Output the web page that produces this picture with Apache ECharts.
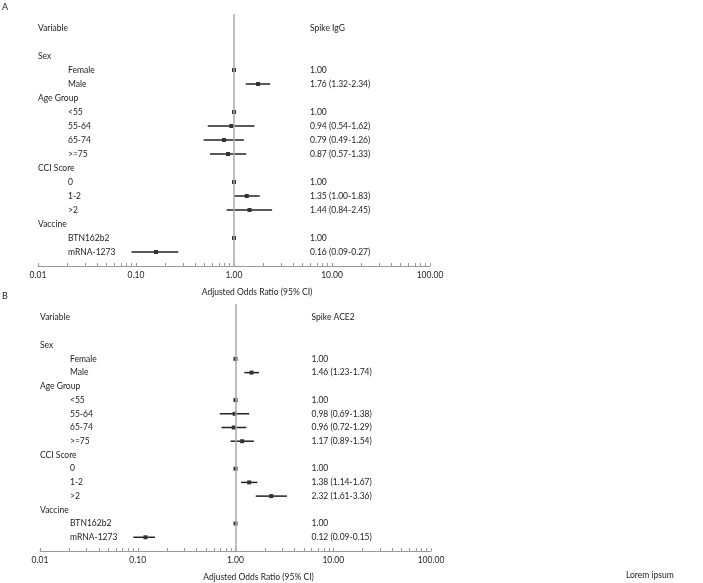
<!DOCTYPE html>
<html>
<head>
<meta charset="utf-8">
<script src="https://cdn.jsdelivr.net/npm/echarts@6/dist/echarts.min.js"></script>
<style>
  html, body { margin: 0; padding: 0; background: #fff; }
  #main { width: 703px; height: 583px; }
</style>
</head>
<body>
<div id="main"></div>
<script>
// 行标签（两个面板共用）
const rowLabels = ['Variable', '', 'Sex', 'Female', 'Male', 'Age Group', '<55', '55-64', '65-74', '>=75',
  'CCI Score', '0', '1-2', '>2', 'Vaccine', 'BTN162b2', 'mRNA-1273']
const headerLabels = ['Variable', 'Sex', 'Age Group', 'CCI Score', 'Vaccine']

// 坐标轴刻度
const decades = [0.01, 0.1, 1, 10, 100]
const minorSteps = [1, 2, 3, 4, 5, 6, 7, 8, 9]

// 面板 A：Spike IgG
const titleA = 'Spike IgG'
const orA = [null, null, null, 1.00, 1.76, null, 1.00, 0.94, 0.79, 0.87, null, 1.00, 1.35, 1.44, null, 1.00, 0.16]
const loA = [null, null, null, null, 1.32, null, null, 0.54, 0.49, 0.57, null, null, 1.00, 0.84, null, null, 0.09]
const hiA = [null, null, null, null, 2.34, null, null, 1.62, 1.26, 1.33, null, null, 1.83, 2.45, null, null, 0.27]

// 面板 B：Spike ACE2
const titleB = 'Spike ACE2'
const orB = [null, null, null, 1.00, 1.46, null, 1.00, 0.98, 0.96, 1.17, null, 1.00, 1.38, 2.32, null, 1.00, 0.12]
const loB = [null, null, null, null, 1.23, null, null, 0.69, 0.72, 0.89, null, null, 1.14, 1.61, null, null, 0.09]
const hiB = [null, null, null, null, 1.74, null, null, 1.38, 1.29, 1.54, null, null, 1.67, 3.36, null, null, 0.15]

const FONT = 'Lato'
const FS = 8.5
const TXT = '#222'

let tickValues = []
decades.slice(0, -1).forEach(d => minorSteps.forEach(m => tickValues.push(+(d * m).toFixed(4))))
tickValues.push(decades[decades.length - 1])

let myChart = echarts.init(document.getElementById('main'))

function valueText(or, lo, hi) {
  if (or == null) return ''
  if (lo == null) return or.toFixed(2)
  return or.toFixed(2) + ' (' + lo.toFixed(2) + '-' + hi.toFixed(2) + ')'
}

function makeAxes(idx) {
  let xAxis = {
    type: 'log',
    logBase: 10,
    min: 0.01,
    max: 100,
    gridIndex: idx,
    position: 'bottom',
    axisLine: { onZero: false, lineStyle: { color: '#999', width: 1 } },
    axisTick: { inside: true, length: 3, customValues: tickValues, lineStyle: { color: '#999' } },
    axisLabel: {
      customValues: decades,
      formatter: v => Number(v).toFixed(2),
      color: TXT, fontFamily: FONT, fontSize: FS, margin: 5
    },
    splitLine: { show: false },
    name: 'Adjusted Odds Ratio (95% CI)',
    nameLocation: 'middle',
    nameGap: 22,
    nameTextStyle: { color: TXT, fontFamily: FONT, fontSize: FS, padding: [0, 0, 0, 46] }
  }
  let yAxis = {
    type: 'value',
    gridIndex: idx,
    inverse: true,
    min: -1,
    max: 17,
    show: false
  }
  return [xAxis, yAxis]
}

function makeSeries(idx, title, or, lo, hi) {
  // 左侧标签
  let labelData = rowLabels.map((t, i) => [0.01, i, i]).filter(d => rowLabels[d[2]] !== '')
  // 右侧数值文字
  let textData = rowLabels.map((t, i) => [1, i, i]).filter(d => d[1] === 0 || or[d[1]] != null)
  // 点和置信区间
  let ciData = or.map((v, i) => [v, i, lo[i], hi[i]]).filter(d => d[0] != null)

  return [
    {
      type: 'custom',
      xAxisIndex: idx, yAxisIndex: idx,
      silent: true,
      data: labelData,
      renderItem: (params, api) => {
        let i = api.value(2)
        let p = api.coord([api.value(0), api.value(1)])
        let isHeader = headerLabels.includes(rowLabels[i])
        return {
          type: 'text',
          x: p[0] + (isHeader ? 0 : 30),
          y: p[1],
          style: { text: rowLabels[i], fill: TXT, font: FS + 'px ' + FONT, verticalAlign: 'middle' }
        }
      }
    },
    {
      type: 'custom',
      xAxisIndex: idx, yAxisIndex: idx,
      silent: true,
      data: textData,
      renderItem: (params, api) => {
        let i = api.value(2)
        let p = api.coord([api.value(0), api.value(1)])
        let text = i === 0 ? title : valueText(or[i], lo[i], hi[i])
        return {
          type: 'text',
          x: p[0] + 76,
          y: p[1],
          style: { text: text, fill: TXT, font: FS + 'px ' + FONT, verticalAlign: 'middle' }
        }
      }
    },
    {
      type: 'custom',
      xAxisIndex: idx, yAxisIndex: idx,
      silent: true,
      data: ciData,
      renderItem: (params, api) => {
        let p = api.coord([api.value(0), api.value(1)])
        let children = []
        if (!isNaN(api.value(2)) && api.value(2) != null) {
          let a = api.coord([api.value(2), api.value(1)])
          let b = api.coord([api.value(3), api.value(1)])
          children.push({
            type: 'line',
            shape: { x1: a[0], y1: a[1], x2: b[0], y2: b[1] },
            style: { stroke: '#222', lineWidth: 1.5 }
          })
        }
        children.push({
          type: 'rect',
          shape: { x: p[0] - 2, y: p[1] - 2, width: 4, height: 4 },
          style: { fill: '#333' }
        })
        return { type: 'group', children: children }
      },
      markLine: {
        silent: true,
        symbol: 'none',
        label: { show: false },
        lineStyle: { color: '#aaa', width: 1.5, type: 'solid' },
        data: [{ xAxis: 1 }]
      },
      z: 3
    }
  ]
}

let axesA = makeAxes(0)
let axesB = makeAxes(1)

let option = {
  animation: false,
  grid: [
    { left: 38, width: 392, top: 14, height: 252 },
    { left: 40, width: 391, top: 304, height: 252 }
  ],
  xAxis: [axesA[0], axesB[0]],
  yAxis: [axesA[1], axesB[1]],
  graphic: [
    { type: 'text', left: 2, top: 3, style: { text: 'A', fill: TXT, font: '9px ' + FONT } },
    { type: 'text', left: 2, top: 292, style: { text: 'B', fill: TXT, font: '9px ' + FONT } },
    { type: 'text', left: 626, top: 571, style: { text: 'Lorem ipsum', fill: TXT, font: FS + 'px ' + FONT } }
  ],
  series: [
    ...makeSeries(0, titleA, orA, loA, hiA),
    ...makeSeries(1, titleB, orB, loB, hiB)
  ]
}

myChart.setOption(option)
</script>
</body>
</html>
